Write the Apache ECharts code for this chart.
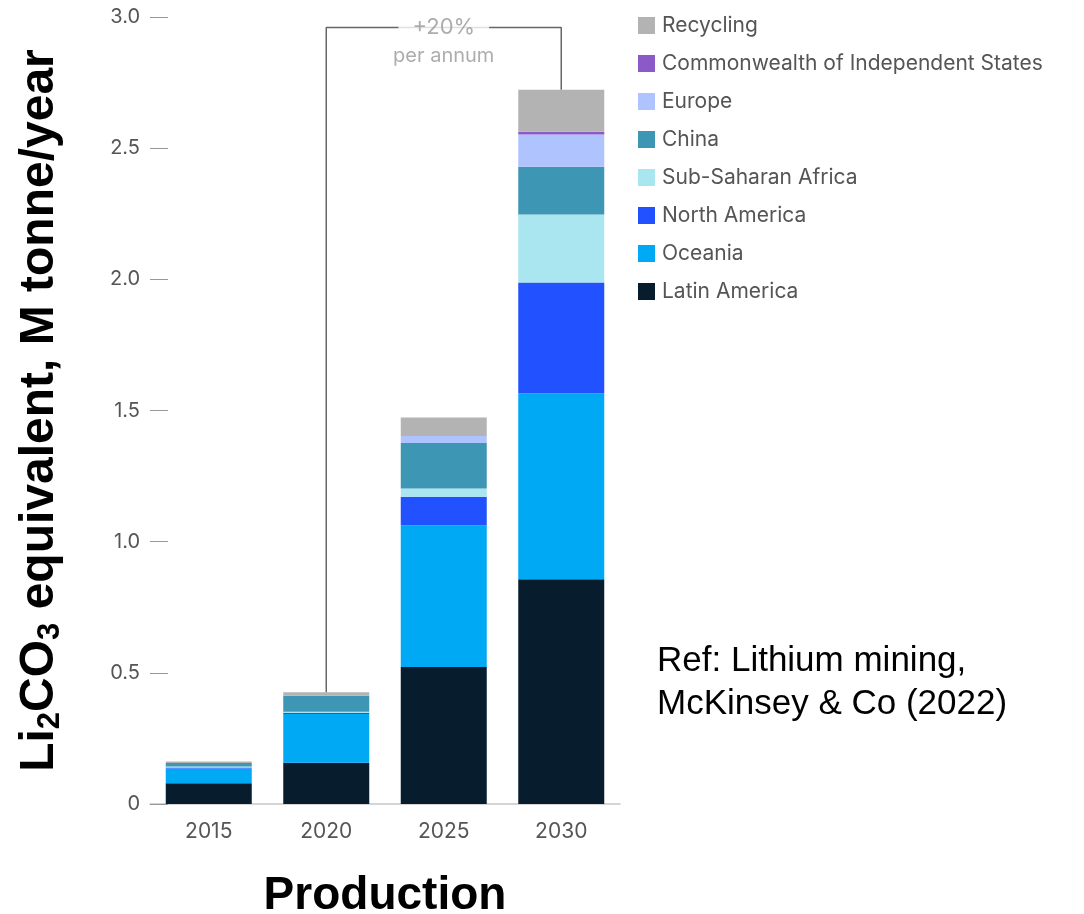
<!DOCTYPE html>
<html>
<head>
<meta charset="utf-8">
<script src="https://cdn.jsdelivr.net/npm/echarts@6/dist/echarts.min.js"></script>
<style>
  html, body { margin: 0; padding: 0; background: #fff; }
  #chart { width: 1084px; height: 914px; }
</style>
</head>
<body>
<div id="chart"></div>
<script>
// values (M tonne/year, Li2CO3 eq.)
const years = ['2015', '2020', '2025', '2030']
const latinAmerica = [0.079, 0.157, 0.522, 0.857]
const oceania = [0.056, 0.186, 0.541, 0.709]
const northAmerica = [0.004, 0.005, 0.108, 0.422]
const subSaharanAfrica = [0.004, 0.004, 0.032, 0.259]
const china = [0.013, 0.061, 0.173, 0.182]
const europe = [0, 0, 0.027, 0.123]
const cis = [0, 0, 0, 0.011]
const recycling = [0.006, 0.013, 0.070, 0.160]
const growthLabel = ['+20%', 'per annum']
const bracketLevel = 2.96

const seriesDefs = [
  { name: 'Latin America', data: latinAmerica, color: '#071d2d' },
  { name: 'Oceania', data: oceania, color: '#00a9f4' },
  { name: 'North America', data: northAmerica, color: '#2251ff' },
  { name: 'Sub-Saharan Africa', data: subSaharanAfrica, color: '#aae6f0' },
  { name: 'China', data: china, color: '#3c96b4' },
  { name: 'Europe', data: europe, color: '#afc3ff' },
  { name: 'Commonwealth of Independent States', data: cis, color: '#8c5ac8' },
  { name: 'Recycling', data: recycling, color: '#b3b3b3' }
]

const totals = years.map((_, i) => seriesDefs.reduce((s, d) => s + d.data[i], 0))

const labelFont = 'Inter, "Liberation Sans", Arial, sans-serif'
const boldFont = '"Liberation Sans", Arial, sans-serif'

const chart = echarts.init(document.getElementById('chart'), null, { renderer: 'canvas' })

const barSeries = seriesDefs.map(d => ({
  name: d.name,
  type: 'bar',
  stack: 'total',
  barWidth: 86,
  itemStyle: { color: d.color },
  data: d.data
}))

chart.setOption({
  animation: false,
  backgroundColor: '#fff',
  grid: { left: 150, top: 17, width: 470, height: 787, containLabel: false, outerBoundsMode: 'none' },
  legend: {
    orient: 'vertical',
    left: 638,
    top: 15,
    padding: 0,
    itemWidth: 17,
    itemHeight: 17,
    itemGap: 17,
    icon: 'rect',
    data: seriesDefs.map(d => d.name).reverse(),
    textStyle: { color: '#555', fontSize: 21, fontFamily: labelFont, padding: [0, 0, 0, 2] }
  },
  title: {
    text: 'Ref: Lithium mining,\nMcKinsey & Co (2022)',
    left: 657,
    top: 640,
    padding: 0,
    textStyle: { color: '#000', fontSize: 35, fontWeight: 'normal', fontFamily: boldFont, lineHeight: 43 }
  },
  xAxis: {
    type: 'category',
    data: years,
    name: 'Production',
    nameLocation: 'middle',
    nameGap: 69,
    nameTextStyle: { color: '#000', fontSize: 46, fontWeight: 'bold', fontFamily: boldFont },
    axisLine: { lineStyle: { color: '#c8c8c8', width: 1.5 } },
    axisTick: { show: false },
    axisLabel: { color: '#555', fontSize: 21, fontFamily: labelFont, margin: 17 }
  },
  yAxis: {
    type: 'value',
    min: 0,
    max: 3,
    interval: 0.5,
    name: '{n|Li}{s|2}{n|CO}{s|3}{n| equivalent, M tonne/year}',
    nameLocation: 'middle',
    nameGap: 84,
    nameTextStyle: {
      color: '#000',
      fontFamily: boldFont,
      rich: {
        n: { fontSize: 48, fontWeight: 'bold', fontFamily: boldFont, color: '#000', lineHeight: 52, verticalAlign: 'middle' },
        s: { fontSize: 31, fontWeight: 'bold', fontFamily: boldFont, color: '#000', lineHeight: 52, verticalAlign: 'bottom', padding: [18, 0, 0, 0] }
      }
    },
    axisLine: { show: false },
    axisTick: { show: true, inside: true, length: 18, lineStyle: { color: '#999', width: 1 } },
    splitLine: { show: false },
    axisLabel: {
      color: '#555',
      fontSize: 20,
      fontFamily: labelFont,
      margin: 10,
      formatter: v => (v === 0 ? '0' : v.toFixed(1))
    }
  },
  series: barSeries.concat([
    {
      name: 'bracket',
      type: 'line',
      symbol: 'none',
      silent: true,
      z: 5,
      lineStyle: { color: '#666', width: 1.5 },
      data: [
        [years[1], totals[1]],
        [years[1], bracketLevel],
        [years[3], bracketLevel],
        [years[3], totals[3]]
      ]
    },
    {
      name: 'growth',
      type: 'scatter',
      symbolSize: 0,
      silent: true,
      z: 6,
      data: [[years[2], bracketLevel]],
      label: {
        show: true,
        position: 'inside',
        offset: [0, 15],
        formatter: '{a|' + growthLabel[0] + '}\n{b|' + growthLabel[1] + '}',
        rich: {
          a: { color: '#999', fontSize: 22, fontFamily: labelFont, backgroundColor: '#fff', padding: [0, 14], lineHeight: 26 },
          b: { color: '#999', fontSize: 20, fontFamily: labelFont, lineHeight: 30 }
        }
      }
    }
  ])
})
</script>
</body>
</html>
